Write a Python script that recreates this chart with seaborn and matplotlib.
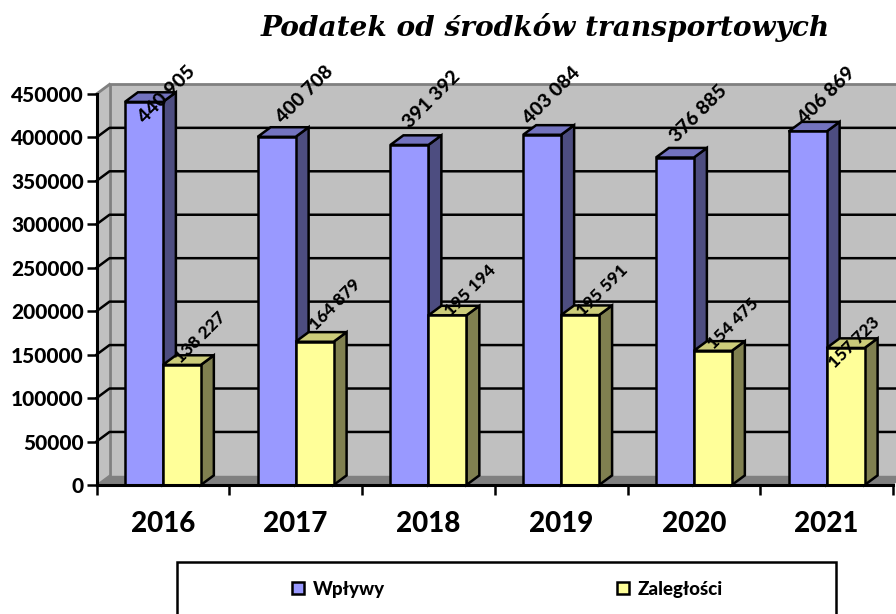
import numpy as np
import pandas as pd
import matplotlib
matplotlib.use('Agg')
import matplotlib.pyplot as plt
from matplotlib.patches import Polygon, Rectangle
import seaborn as sns

# --- Data ---
years = ['2016', '2017', '2018', '2019', '2020', '2021']
wplywy = [440905, 400708, 391392, 403084, 376885, 406869]
zaleglosci = [138227, 164879, 195194, 195591, 154475, 157723]
y_ticks = [0, 50000, 100000, 150000, 200000, 250000, 300000, 350000, 400000, 450000]

# hand-moved data labels, offset from top of bar in pixels
wplywy_offsets = [(23, 7), (28, 42), (22, 45), (10, 39), (24, 44), (19, 36)]
zaleglosci_offsets = [(18, 27), (21, 37), (23, 25), (22, 25), (20, 27), (9, 5)]

df = pd.DataFrame({
    'rok': years * 2,
    'seria': ['Wpływy'] * 6 + ['Zaległości'] * 6,
    'wartosc': wplywy + zaleglosci,
})

W, H = 896, 614
LW = 1.8
fig = plt.figure(figsize=(W / 100, H / 100), dpi=100, facecolor='white')
ax = fig.add_axes([96.5 / W, (H - 485) / H, 796.5 / W, 391 / H])
font = 'Lato'
heavy = 900

sns.barplot(data=df, x='rok', y='wartosc', hue='seria', palette=['#9999FF', '#FFFF99'],
            width=0.572, gap=0, saturation=1, edgecolor='black', linewidth=LW, ax=ax)

ax.set_xlim(-0.5, 5.5)
ax.set_ylim(0, 450000)
ax.patch.set_visible(False)

# 3d depth in data units
dx = 13 / 132.75
dy = 9.6 / 391 * 450000
x0, x1 = ax.get_xlim()
top = 450000

# walls and floor
ax.add_patch(Polygon([(x0 + dx, dy), (x1 + dx, dy), (x1 + dx, top + dy), (x0 + dx, top + dy)],
                     fc='#C0C0C0', ec='none', zorder=0, clip_on=False))
ax.add_patch(Polygon([(x0, 0), (x0 + dx, dy), (x0 + dx, top + dy), (x0, top)],
                     fc='#C0C0C0', ec='none', zorder=0, clip_on=False))
ax.add_patch(Polygon([(x0, 0), (x1, 0), (x1 + dx, dy), (x0 + dx, dy)],
                     fc='#808080', ec='none', zorder=0.5, clip_on=False))
ax.plot([x0 + dx, x0 + dx, x1 + dx], [dy, top + dy, top + dy], color='#808080', lw=2,
        zorder=0.6, clip_on=False)
ax.plot([x0, x0 + dx], [top, top + dy], color='#808080', lw=2, zorder=0.6, clip_on=False)
ax.plot([x0, x0 + dx], [0, dy], color='#808080', lw=1, zorder=0.6, clip_on=False)

# gridlines on the back wall and the left wall
for v in y_ticks[1:-1]:
    ax.plot([x0, x0 + dx, x1 + dx], [v, v + dy, v + dy], color='black', lw=LW,
            zorder=1, clip_on=False)

# side and top faces of the bars
faces = [('#4D4D80', '#7373BF', 3), ('#808050', '#CCCC7A', 4)]
for cont, (side, lid, z) in zip(ax.containers, faces):
    for bar in cont:
        bar.set_zorder(z + 0.2)
        l, r, h = bar.get_x(), bar.get_x() + bar.get_width(), bar.get_height()
        ax.add_patch(Polygon([(r, 0), (r + dx, dy), (r + dx, h + dy), (r, h)], fc=side,
                             ec='black', lw=LW, zorder=z, joinstyle='miter', clip_on=False))
        ax.add_patch(Polygon([(l, h), (r, h), (r + dx, h + dy), (l + dx, h + dy)], fc=lid,
                             ec='black', lw=LW, zorder=z, joinstyle='miter', clip_on=False))

# data labels
label_sets = [(wplywy, wplywy_offsets, 14), (zaleglosci, zaleglosci_offsets, 12.5)]
for cont, (vals, offs, fs) in zip(ax.containers, label_sets):
    for bar, val, off in zip(cont, vals, offs):
        xc = bar.get_x() + bar.get_width() / 2
        ax.annotate(f'{val:,}'.replace(',', ' '), (xc, val), xytext=(off[0] * 0.72, off[1] * 0.72),
                    textcoords='offset points', rotation=45, ha='center', va='center',
                    rotation_mode='anchor', fontsize=fs, fontweight=heavy, family=font,
                    zorder=6, annotation_clip=False)

# axes
ax.set_xlabel('')
ax.set_ylabel('')
ax.set_yticks(y_ticks)
ax.set_yticklabels([str(v) for v in y_ticks], fontsize=15, fontweight=heavy, family=font)
ax.set_xticks(range(6))
ax.set_xticklabels(years, fontsize=20, fontweight=heavy, family=font)
ax.set_xticks(np.arange(-0.5, 6, 1), minor=True)
ax.tick_params(axis='x', which='major', length=0, pad=19)
ax.tick_params(axis='x', which='minor', length=7, width=LW, color='black')
ax.tick_params(axis='y', length=7, width=LW, color='black', pad=2)
for s in ['top', 'right']:
    ax.spines[s].set_visible(False)
for s in ['left', 'bottom']:
    ax.spines[s].set_linewidth(LW + 0.4)
    ax.spines[s].set_zorder(5)

# title
fig.text(545.5 / W, 1 - 27 / H, 'Podatek od środków transportowych', ha='center', va='center',
         fontsize=20.2, fontweight='bold', fontstyle='italic', family='DejaVu Serif')

# legend, frame runs off the bottom of the picture
handles, labels = ax.get_legend_handles_labels()
ax.get_legend().remove()
fig.add_artist(Rectangle((177 / W, -2 / H), 659 / W, (H - 562 + 2) / H, transform=fig.transFigure,
                         fc='white', ec='black', lw=LW))
leg = fig.legend(handles, labels, loc='center', ncols=2, bbox_to_anchor=(507.5 / W, (H - 589) / H),
                 prop={'family': font, 'weight': heavy, 'size': 13.5}, frameon=False,
                 handlelength=0.65, handleheight=0.65, handletextpad=0.45, columnspacing=12.4,
                 borderaxespad=0, borderpad=0)

fig.savefig('out.png', dpi=100)
